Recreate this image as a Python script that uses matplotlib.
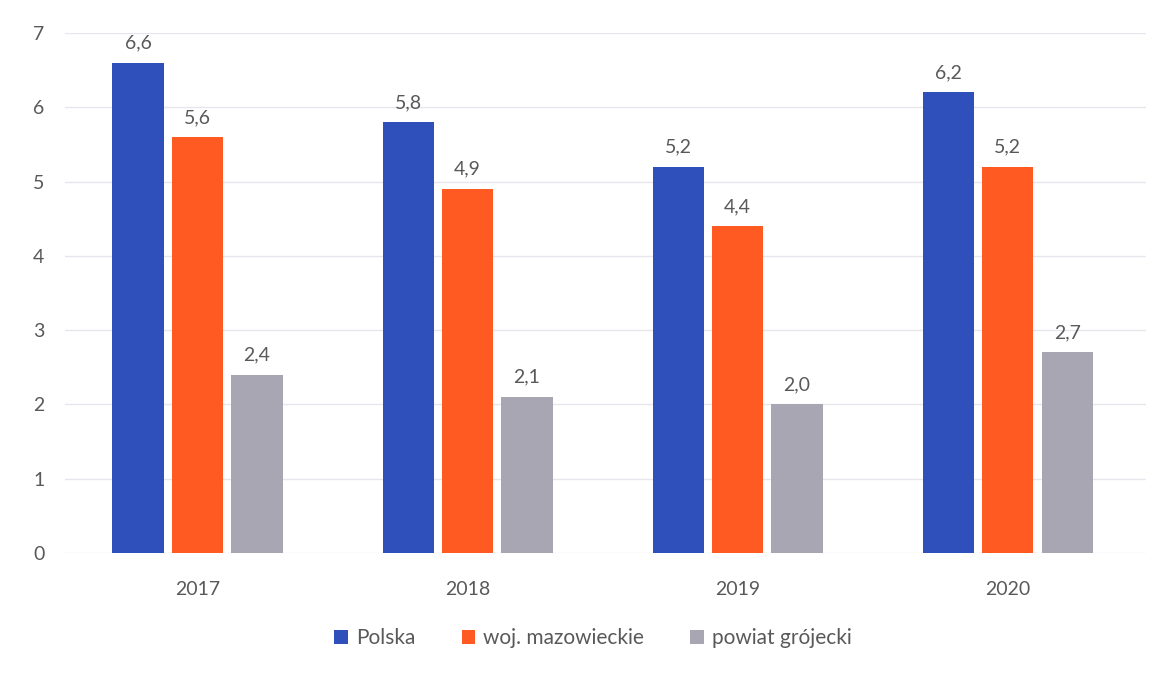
import matplotlib
matplotlib.use("Agg")
import matplotlib.pyplot as plt
import numpy as np

years = ["2017", "2018", "2019", "2020"]
series_names = ["Polska", "woj. mazowieckie", "powiat grójecki"]
polska = [6.6, 5.8, 5.2, 6.2]
mazowieckie = [5.6, 4.9, 4.4, 5.2]
grojecki = [2.4, 2.1, 2.0, 2.7]
yticks = [0, 1, 2, 3, 4, 5, 6, 7]

colors = ["#2F4FBA", "#FF5A22", "#A9A6B3"]
text_color = "#595959"

plt.rcParams['font.family'] = ['Lato', 'DejaVu Sans']

fig = plt.figure(figsize=(11.63, 6.75), dpi=100)
ax = fig.add_axes([0.056, 0.181, 0.929, 0.770])

x = np.arange(len(years))
width = 0.19
offset = 0.22
for i, (vals, name) in enumerate(zip([polska, mazowieckie, grojecki], series_names)):
    pos = x + (i - 1) * offset
    bars = ax.bar(pos, vals, width, color=colors[i], label=name, zorder=3)
    for b, v in zip(bars, vals):
        ax.text(b.get_x() + b.get_width() / 2, v + 0.15, f"{v:.1f}".replace(".", ","),
                ha="center", va="bottom", fontsize=14, color=text_color)

ax.set_xlim(-0.49, 3.51)
ax.set_ylim(0, 7)
ax.set_yticks(yticks)
ax.yaxis.grid(True, color="#E6E6EE", linewidth=1, zorder=0)
ax.set_xticks(x)
ax.set_xticklabels(years)
for s in ax.spines.values():
    s.set_visible(False)
ax.tick_params(axis="both", length=0, labelsize=14, labelcolor=text_color)
for lbl in ax.get_yticklabels():
    lbl.set_horizontalalignment("left")
ax.tick_params(axis="y", pad=23)
ax.tick_params(axis="x", pad=20)

leg = fig.legend(loc="center", bbox_to_anchor=(0.51, 0.055), ncol=3, frameon=False,
                 fontsize=15, handlelength=0.65, handleheight=0.65, columnspacing=2.2,
                 handletextpad=0.4, labelcolor=text_color)

fig.savefig("out.png", dpi=100, facecolor="white")
